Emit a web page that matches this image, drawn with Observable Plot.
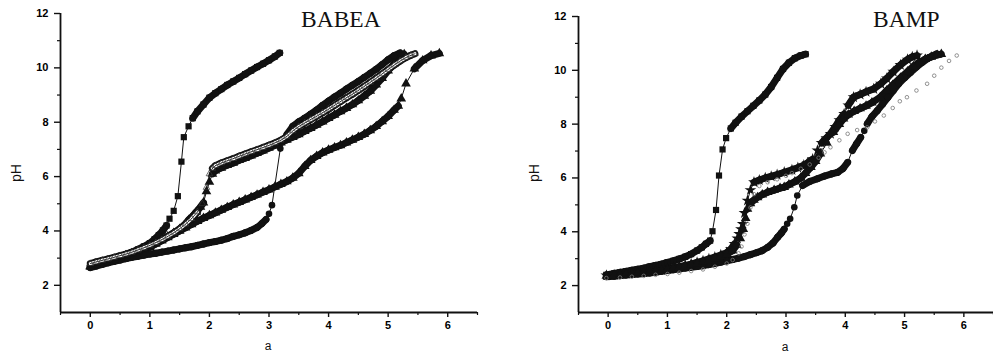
<!DOCTYPE html>
<html><head><meta charset="utf-8">
<script src="https://cdn.jsdelivr.net/npm/d3@7"></script>
<script src="https://cdn.jsdelivr.net/npm/@observablehq/plot@0.6"></script>
<style>
body{margin:0;background:#fff;}
#wrap{position:relative;width:993px;height:353px;overflow:hidden;background:#fff;}
.panel{position:absolute;top:0;}
.panel text{font-family:"Liberation Sans",Arial,sans-serif;font-weight:700;font-size:11px;fill:#000;}
.title{position:absolute;font-family:"Liberation Serif","Times New Roman",serif;font-size:23.5px;line-height:1;color:#111;white-space:nowrap;}
.alab{position:absolute;font-family:"Liberation Sans",Arial,sans-serif;font-size:12px;line-height:1;color:#111;white-space:nowrap;transform:translate(-50%,-50%);}
.ylab{transform:translate(-50%,-50%) rotate(-90deg);font-size:14px;}
</style></head><body>
<div id="wrap"></div>
<script>
// ---------- BABEA panel ----------
const babeaSqA  = [0,0.1,0.2,0.3,0.4,0.5,0.6,0.7,0.8,0.9,1.0,1.08,1.15,1.22,1.28,1.33,1.40,1.47,1.53,1.57,1.65,1.72,1.8,1.9,2.0,2.1,2.2,2.3,2.4,2.5,2.6,2.7,2.8,2.9,3.0,3.1,3.18];
const babeaSqPH = [2.72,2.78,2.85,2.92,2.98,3.05,3.13,3.22,3.32,3.43,3.55,3.7,3.85,4.02,4.2,4.45,4.74,5.28,6.55,7.45,7.85,8.15,8.4,8.65,8.9,9.07,9.22,9.37,9.5,9.63,9.77,9.9,10.03,10.15,10.28,10.42,10.55];

const babeaCiA  = [0,0.1,0.2,0.3,0.4,0.5,0.6,0.7,0.8,0.9,1.0,1.1,1.2,1.3,1.4,1.5,1.6,1.7,1.8,1.9,2.0,2.1,2.2,2.3,2.4,2.5,2.6,2.7,2.8,2.88,2.95,3.0,3.05,3.19,3.3,3.4,3.5,3.6,3.7,3.8,3.9,4.0,4.1,4.2,4.3,4.4,4.5,4.6,4.7,4.8,4.9,5.0,5.1,5.2];
const babeaCiPH = [2.65,2.71,2.77,2.83,2.88,2.93,2.98,3.03,3.07,3.11,3.15,3.18,3.22,3.26,3.3,3.34,3.38,3.42,3.47,3.52,3.57,3.61,3.66,3.72,3.8,3.86,3.93,4.02,4.13,4.27,4.42,4.63,4.95,7.03,7.55,7.85,8.02,8.15,8.3,8.45,8.62,8.78,8.93,9.07,9.22,9.36,9.5,9.65,9.8,9.95,10.12,10.3,10.45,10.55];

const babeaTrA  = [0,0.1,0.2,0.3,0.4,0.5,0.6,0.7,0.8,0.9,1.0,1.1,1.2,1.3,1.4,1.5,1.58,1.65,1.72,1.78,1.85,1.9,1.95,2.0,2.05,2.1,2.2,2.3,2.4,2.5,2.6,2.7,2.8,2.9,3.0,3.1,3.2,3.3,3.4,3.5,3.6,3.7,3.8,3.9,4.0,4.1,4.2,4.3,4.4,4.5,4.6,4.7,4.8,4.9,5.0,5.1,5.2,5.27];
const babeaTrPH = [2.7,2.76,2.82,2.88,2.95,3.02,3.1,3.18,3.26,3.35,3.44,3.55,3.67,3.79,3.92,4.07,4.22,4.4,4.55,4.7,4.88,5.04,5.45,5.8,6.1,6.22,6.32,6.42,6.5,6.6,6.68,6.77,6.86,6.95,7.05,7.15,7.25,7.35,7.45,7.55,7.67,7.78,7.9,8.02,8.15,8.27,8.4,8.52,8.65,8.8,8.97,9.15,9.38,9.62,9.9,10.15,10.38,10.5];

const babeaOpA  = [0,0.1,0.2,0.3,0.4,0.5,0.6,0.7,0.8,0.9,1.0,1.1,1.2,1.3,1.4,1.5,1.6,1.7,1.8,1.88,1.95,2.0,2.05,2.1,2.2,2.3,2.4,2.5,2.6,2.7,2.8,2.9,3.0,3.1,3.2,3.3,3.4,3.5,3.6,3.7,3.8,3.9,4.0,4.1,4.2,4.3,4.4,4.5,4.6,4.7,4.8,4.9,5.0,5.1,5.2,5.3,5.38,5.45];
const babeaOpPH = [2.8,2.86,2.92,2.97,3.03,3.09,3.15,3.22,3.3,3.38,3.47,3.57,3.68,3.8,3.93,4.08,4.25,4.45,4.7,5.0,5.6,6.1,6.3,6.4,6.5,6.58,6.66,6.75,6.83,6.91,6.99,7.07,7.15,7.24,7.34,7.48,7.68,7.84,7.97,8.1,8.22,8.35,8.48,8.62,8.76,8.9,9.03,9.17,9.32,9.47,9.62,9.78,9.94,10.1,10.25,10.38,10.46,10.52];

const babeaLgA  = [0,0.1,0.2,0.3,0.4,0.5,0.6,0.7,0.8,0.9,1.0,1.1,1.2,1.3,1.4,1.5,1.6,1.7,1.8,1.9,2.0,2.1,2.2,2.3,2.4,2.5,2.6,2.7,2.8,2.9,3.0,3.1,3.2,3.3,3.4,3.5,3.6,3.7,3.8,3.9,4.0,4.1,4.2,4.3,4.4,4.5,4.6,4.7,4.8,4.9,5.0,5.1,5.17,5.22,5.3,5.44,5.58,5.72,5.86];
const babeaLgPH = [2.68,2.75,2.82,2.88,2.95,3.02,3.09,3.16,3.24,3.3,3.4,3.52,3.64,3.76,3.88,4.0,4.12,4.24,4.36,4.47,4.57,4.67,4.77,4.87,4.97,5.06,5.15,5.24,5.33,5.43,5.52,5.62,5.72,5.82,5.95,6.12,6.38,6.6,6.75,6.88,6.98,7.07,7.15,7.25,7.35,7.45,7.56,7.7,7.85,8.03,8.22,8.45,8.6,8.87,9.42,9.97,10.27,10.45,10.53];

// ---------- BAMP panel ----------
const bampSqA  = [-0.03,0.1,0.2,0.3,0.4,0.5,0.6,0.7,0.8,0.9,1.0,1.1,1.2,1.3,1.4,1.5,1.58,1.65,1.72,1.76,1.82,1.87,1.93,1.99,2.07,2.15,2.25,2.35,2.45,2.55,2.65,2.75,2.85,2.95,3.05,3.15,3.25,3.33];
const bampSqPH = [2.4,2.45,2.49,2.53,2.57,2.61,2.65,2.7,2.75,2.8,2.86,2.92,2.99,3.07,3.17,3.3,3.42,3.55,3.67,4.02,4.81,6.09,7.06,7.48,7.84,8.05,8.28,8.48,8.68,8.88,9.1,9.38,9.72,10.05,10.28,10.45,10.55,10.6];

const bampCiA  = [-0.03,0.1,0.2,0.3,0.4,0.5,0.6,0.7,0.8,0.9,1.0,1.1,1.2,1.3,1.4,1.5,1.6,1.7,1.8,1.9,2.0,2.1,2.2,2.3,2.4,2.5,2.6,2.69,2.78,2.86,2.92,2.97,3.02,3.07,3.14,3.19,3.28,3.4,3.53,3.65,3.77,3.87,3.96,4.04,4.12,4.19,4.26,4.32,4.37,4.45,4.54,4.63,4.72,4.81,4.9,5.0,5.1,5.2,5.3,5.42,5.54];
const bampCiPH = [2.33,2.35,2.37,2.39,2.41,2.43,2.45,2.47,2.5,2.53,2.56,2.59,2.62,2.65,2.68,2.71,2.74,2.78,2.82,2.87,2.92,2.97,3.02,3.08,3.15,3.22,3.3,3.42,3.58,3.8,3.95,4.1,4.3,4.48,4.91,5.35,5.72,5.87,5.97,6.07,6.15,6.21,6.35,6.58,7.02,7.27,7.51,7.75,8.01,8.28,8.5,8.75,9.0,9.25,9.5,9.72,9.92,10.12,10.3,10.48,10.61];

const bampStA  = [-0.03,0.1,0.2,0.3,0.4,0.5,0.6,0.7,0.8,0.9,1.0,1.1,1.2,1.3,1.4,1.5,1.6,1.7,1.8,1.9,2.0,2.07,2.13,2.18,2.21,2.24,2.27,2.3,2.35,2.4,2.46,2.55,2.65,2.75,2.85,2.97,3.1,3.2,3.3,3.36,3.45,3.53,3.6,3.68,3.75,3.83,3.9,3.98,4.05,4.14,4.25,4.35,4.48,4.6,4.7,4.81,4.93,5.05,5.13,5.21];
const bampStPH = [2.38,2.4,2.42,2.44,2.46,2.48,2.5,2.52,2.55,2.58,2.62,2.66,2.7,2.75,2.8,2.86,2.92,2.99,3.06,3.14,3.22,3.35,3.55,3.75,3.92,4.1,4.29,4.7,5.16,5.55,5.84,5.92,6.0,6.06,6.12,6.21,6.3,6.38,6.47,6.55,6.7,7.02,7.3,7.48,7.64,7.9,8.15,8.38,8.7,9.0,9.1,9.2,9.31,9.5,9.7,9.95,10.2,10.4,10.5,10.55];

const bampTrA  = [-0.03,0.1,0.2,0.3,0.4,0.5,0.6,0.7,0.8,0.9,1.0,1.1,1.2,1.3,1.4,1.5,1.6,1.7,1.8,1.9,2.0,2.1,2.17,2.23,2.28,2.32,2.35,2.4,2.46,2.52,2.6,2.69,2.8,2.9,2.97,3.05,3.15,3.25,3.33,3.42,3.5,3.58,3.69,3.8,3.9,3.97,4.05,4.15,4.25,4.35,4.45,4.59,4.7,4.8,4.93,5.05,5.15,5.25,5.35,5.45,5.55,5.62];
const bampTrPH = [2.36,2.38,2.4,2.42,2.44,2.46,2.48,2.5,2.53,2.56,2.6,2.64,2.68,2.72,2.77,2.82,2.88,2.94,3.01,3.08,3.16,3.3,3.5,3.75,4.1,4.5,4.85,5.05,5.18,5.28,5.38,5.47,5.55,5.62,5.66,5.75,5.86,6.0,6.18,6.4,6.62,6.9,7.3,7.7,8.0,8.2,8.35,8.48,8.58,8.68,8.8,9.0,9.25,9.45,9.72,9.95,10.15,10.3,10.42,10.5,10.57,10.6];

const bampOpA  = [-0.03,0.2,0.4,0.6,0.8,1.0,1.2,1.4,1.6,1.8,2.0,2.1,2.2,2.25,2.3,2.35,2.4,2.46,2.55,2.69,2.85,3.0,3.1,3.25,3.4,3.55,3.65,3.75,3.9,4.04,4.2,4.37,4.5,4.65,4.8,4.92,5.04,5.2,5.38,5.5,5.62,5.75,5.88];
const bampOpPH = [2.28,2.3,2.33,2.36,2.4,2.43,2.48,2.54,2.6,2.7,2.82,2.95,3.2,3.45,3.9,4.3,4.9,5.4,5.7,5.84,5.95,6.08,6.18,6.34,6.5,6.75,6.95,7.14,7.4,7.64,7.78,7.88,8.1,8.32,8.6,8.85,9.0,9.25,9.5,9.8,10.1,10.35,10.55];

const yMajor = [2,4,6,8,10,12];
const yMinor = [3,5,7,9,11];
const xMajor = [0,1,2,3,4,5,6];
const xMinor = [-0.5,0.5,1.5,2.5,3.5,4.5,5.5,6.5];

const ink = "#111";

function rows(A, P) { return A.map((a, i) => ({a, pH: P[i]})); }
// consecutive pairs; dense (shallow) stretches of a titration curve render as a solid band of overlapping markers
function segs(A, P) {
  const out = [];
  for (let i = 0; i + 1 < A.length; i++) {
    const slope = Math.abs((P[i + 1] - P[i]) / (A[i + 1] - A[i]));
    out.push({a1: A[i], p1: P[i], a2: A[i + 1], p2: P[i + 1], dense: slope < 3.6});
  }
  return out;
}

function panel(series, o) {
  const marks = [];
  const L = {x1: "a1", y1: "p1", x2: "a2", y2: "p2", strokeLinecap: "round"};
  for (const s of series) if (!s.open) {
    const sg = segs(s.a, s.pH);
    marks.push(Plot.link(sg, {...L, stroke: ink, strokeWidth: 1}));
    marks.push(Plot.link(sg.filter(d => d.dense), {...L, stroke: ink, strokeWidth: s.band}));
  }
  for (const s of series) if (!s.open) {
    marks.push(Plot.dot(rows(s.a, s.pH), {x: "a", y: "pH", symbol: () => s.symbol, r: s.r, fill: ink, stroke: "none"}));
  }
  for (const s of series) if (s.open) {
    const sg = segs(s.a, s.pH);
    if (s.hollow) {
      marks.push(Plot.link(sg.filter(d => d.dense), {...L, stroke: ink, strokeWidth: s.hollow[0]}));
      marks.push(Plot.link(sg.filter(d => d.dense), {...L, stroke: "white", strokeWidth: s.hollow[1]}));
      marks.push(Plot.link(sg, {...L, stroke: ink, strokeWidth: 0.8}));
    }
    marks.push(Plot.dot(rows(s.a, s.pH), {x: "a", y: "pH", symbol: () => s.symbol, r: s.r, fill: "none", stroke: s.color, strokeWidth: s.sw}));
  }
  marks.push(
    Plot.ruleX([-0.5], {stroke: ink, strokeWidth: 1.8}),
    Plot.ruleY([1], {stroke: ink, strokeWidth: 1.8}),
    Plot.axisY(yMajor, {tickSize: 6, tickPadding: 6, stroke: ink, strokeWidth: 1.4, label: null, fill: ink, fontWeight: "bold", fontSize: 11}),
    Plot.axisY(yMinor, {tickSize: 3, tickFormat: () => "", stroke: ink, strokeWidth: 1.2, label: null}),
    Plot.axisX(xMajor, {tickSize: 5, tickPadding: 4, stroke: ink, strokeWidth: 1.4, label: null, fill: ink, fontWeight: "bold", fontSize: 11}),
    Plot.axisX(xMinor, {tickSize: 3, tickFormat: () => "", stroke: ink, strokeWidth: 1.2, label: null})
  );
  return Plot.plot({
    width: o.width, height: 353,
    marginLeft: o.ml, marginRight: o.mr, marginTop: o.mt, marginBottom: o.mb,
    x: {domain: [-0.5, 6.5], axis: null},
    y: {domain: [1, 12], axis: null},
    style: {background: "transparent", overflow: "visible"},
    marks
  });
}

const leftSeries = [
  {a: babeaSqA, pH: babeaSqPH, symbol: "square", r: 3.5, band: 7},
  {a: babeaCiA, pH: babeaCiPH, symbol: "circle", r: 3.3, band: 7},
  {a: babeaLgA, pH: babeaLgPH, symbol: "triangle", r: 3.6, band: 7},
  {a: babeaTrA, pH: babeaTrPH, symbol: "triangle", r: 3.6, band: 7},
  {a: babeaOpA, pH: babeaOpPH, symbol: "triangle", r: 2.4, open: true, color: "#333", sw: 0.7, hollow: [7, 3.2]}
];
const rightSeries = [
  {a: bampSqA, pH: bampSqPH, symbol: "square", r: 3.5, band: 7},
  {a: bampCiA, pH: bampCiPH, symbol: "circle", r: 3.3, band: 7},
  {a: bampStA, pH: bampStPH, symbol: "star", r: 3.7, band: 7},
  {a: bampTrA, pH: bampTrPH, symbol: "triangle", r: 3.6, band: 7},
  {a: bampOpA, pH: bampOpPH, symbol: "circle", r: 1.8, open: true, color: "#777", sw: 0.8}
];

const wrap = document.getElementById("wrap");
function place(node, left) { node.classList.add("panel"); node.style.left = left + "px"; wrap.appendChild(node); }
place(panel(leftSeries, {width: 496, ml: 60, mr: 19, mt: 13, mb: 41}), 0);
place(panel(rightSeries, {width: 497, ml: 82, mr: 0, mt: 16, mb: 41}), 496);

function label(text, cls, x, y) {
  const d = document.createElement("div");
  d.className = cls; d.textContent = text;
  d.style.left = x + "px"; d.style.top = y + "px";
  wrap.appendChild(d);
}
label("BABEA", "title", 301, 8);
label("BAMP", "title", 873, 7.5);
label("pH", "alab ylab", 16, 173);
label("pH", "alab ylab", 534, 173);
label("a", "alab", 268, 346);
label("a", "alab", 785, 347);
</script>
</body></html>
